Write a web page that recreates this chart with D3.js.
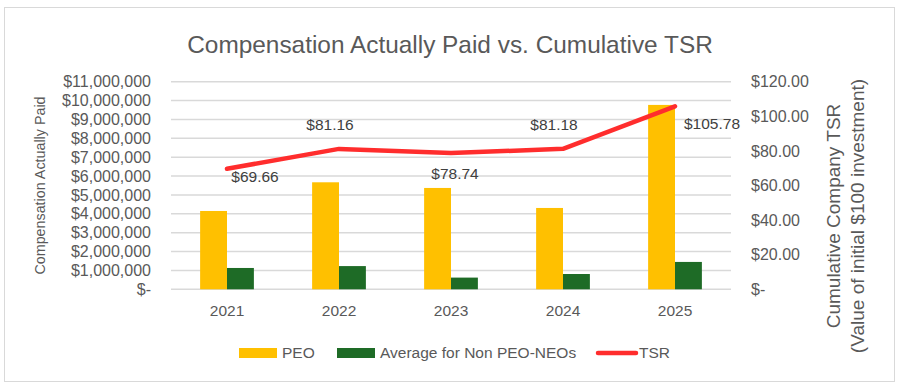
<!DOCTYPE html>
<html>
<head>
    <meta charset="utf-8" />
    <title>Compensation Actually Paid vs. Cumulative TSR</title>
    <script src="https://d3js.org/d3.v7.min.js"></script>
    <style>
        body { margin: 0; background: #fff; }
        text { font-family: "Liberation Sans", Arial, sans-serif; fill: #595959; }
    </style>
</head>
<body>
    <div id="the-chart"></div>
    <script>
        var years = ["2021", "2022", "2023", "2024", "2025"];
        var peo = [4150000, 5670000, 5370000, 4310000, 9770000];
        var nonPeo = [1130000, 1230000, 620000, 810000, 1450000];
        var tsr = [69.66, 81.16, 78.74, 81.18, 105.78];
        var leftTicks = d3.range(0, 11000001, 1000000);
        var rightTicks = [0, 20, 40, 60, 80, 100, 120];

        // label placement relative to each point (Excel put them by hand)
        var labelPos = [
            { dx: 28, dy: 8, anchor: "middle" },
            { dx: -9, dy: -24, anchor: "middle" },
            { dx: 4, dy: 20, anchor: "middle" },
            { dx: -9, dy: -24, anchor: "middle" },
            { dx: 9, dy: 17, anchor: "start" }
        ];

        var W = 901, H = 388;
        var svg = d3.select("#the-chart").append("svg")
            .attr("width", W)
            .attr("height", H);

        svg.append("rect")
            .attr("x", 4.5).attr("y", 7.5)
            .attr("width", 890).attr("height", 374)
            .attr("fill", "#fff")
            .attr("stroke", "#d9d9d9")
            .attr("stroke-width", 1);

        var plotLeft = 171, plotRight = 731, plotTop = 81.7, plotBottom = 289.3;

        var x = d3.scaleBand().domain(years).range([plotLeft, plotRight]).paddingInner(0.52).paddingOuter(0.26);
        var y = d3.scaleLinear().domain([0, 11000000]).range([plotBottom, plotTop]);
        var y2 = d3.scaleLinear().domain([0, 120]).range([plotBottom, plotTop]);

        svg.append("text")
            .attr("x", 450).attr("y", 53)
            .attr("text-anchor", "middle")
            .style("font-size", "24.4px")
            .text("Compensation Actually Paid vs. Cumulative TSR");

        // gridlines
        svg.append("g").selectAll("line")
            .data(leftTicks)
            .enter().append("line")
            .attr("x1", plotLeft).attr("x2", plotRight)
            .attr("y1", function (d) { return y(d); })
            .attr("y2", function (d) { return y(d); })
            .attr("stroke", "#d9d9d9")
            .attr("stroke-width", 1.5);

        var fmtLeft = function (d) { return d === 0 ? "$-" : "$" + d3.format(",")(d); };
        var fmtRight = function (d) { return d === 0 ? "$-" : "$" + d3.format(".2f")(d); };

        var axL = svg.append("g")
            .attr("transform", "translate(" + plotLeft + ",0)")
            .call(d3.axisLeft(y).tickValues(leftTicks).tickFormat(fmtLeft).tickSize(0).tickPadding(20));
        axL.select(".domain").remove();
        axL.selectAll("text").style("font-size", "16px").attr("fill", "#595959")
            .style("font-family", "\"Liberation Sans\", Arial, sans-serif");

        var axR = svg.append("g")
            .attr("transform", "translate(" + plotRight + ",0)")
            .call(d3.axisRight(y2).tickValues(rightTicks).tickFormat(fmtRight).tickSize(0).tickPadding(20));
        axR.select(".domain").remove();
        axR.selectAll("text").style("font-size", "16px").attr("fill", "#595959")
            .style("font-family", "\"Liberation Sans\", Arial, sans-serif");

        var axX = svg.append("g")
            .attr("transform", "translate(0," + plotBottom + ")")
            .call(d3.axisBottom(x).tickSize(0).tickPadding(16));
        axX.select(".domain").remove();
        axX.selectAll("text").style("font-size", "15.5px").attr("fill", "#595959")
            .style("font-family", "\"Liberation Sans\", Arial, sans-serif");

        var bw = x.bandwidth() / 2;

        svg.append("g").selectAll("rect")
            .data(peo)
            .enter().append("rect")
            .attr("x", function (d, i) { return x(years[i]); })
            .attr("y", function (d) { return y(d); })
            .attr("width", bw)
            .attr("height", function (d) { return plotBottom - y(d); })
            .attr("fill", "#ffc000");

        svg.append("g").selectAll("rect")
            .data(nonPeo)
            .enter().append("rect")
            .attr("x", function (d, i) { return x(years[i]) + bw; })
            .attr("y", function (d) { return y(d); })
            .attr("width", bw)
            .attr("height", function (d) { return plotBottom - y(d); })
            .attr("fill", "#1e6b26");

        var cx = function (i) { return x(years[i]) + bw; };

        var line = d3.line()
            .x(function (d, i) { return cx(i); })
            .y(function (d) { return y2(d); });

        svg.append("path")
            .datum(tsr)
            .attr("d", line)
            .attr("fill", "none")
            .attr("stroke", "#ff2d2d")
            .attr("stroke-width", 4.5)
            .attr("stroke-linecap", "round")
            .attr("stroke-linejoin", "round");

        svg.append("g").selectAll("text")
            .data(tsr)
            .enter().append("text")
            .attr("x", function (d, i) { return cx(i) + labelPos[i].dx; })
            .attr("y", function (d, i) { return y2(d) + labelPos[i].dy; })
            .attr("dy", "0.35em")
            .attr("text-anchor", function (d, i) { return labelPos[i].anchor; })
            .style("font-size", "15.5px")
            .style("fill", "#404040")
            .text(function (d) { return "$" + d3.format(".2f")(d); });

        // axis titles
        svg.append("text")
            .attr("transform", "translate(45," + ((plotTop + plotBottom) / 2) + ") rotate(-90)")
            .attr("text-anchor", "middle")
            .style("font-size", "14.3px")
            .text("Compensation Actually Paid");

        var rt = svg.append("text")
            .attr("transform", "translate(840,216) rotate(-90)")
            .attr("text-anchor", "middle")
            .style("font-size", "19px");
        rt.append("tspan").attr("x", 0).attr("dy", 0).text("Cumulative Company TSR");
        rt.append("tspan").attr("x", 0).attr("dy", "1.25em").text("(Value of initial $100 investment)");

        // legend
        var legend = [
            { name: "PEO", color: "#ffc000", type: "rect", x: 239 },
            { name: "Average for Non PEO-NEOs", color: "#1e6b26", type: "rect", x: 337 },
            { name: "TSR", color: "#ff2d2d", type: "line", x: 596 }
        ];
        var lg = svg.append("g").selectAll("g")
            .data(legend)
            .enter().append("g")
            .attr("transform", function (d) { return "translate(" + d.x + ",353)"; });
        lg.filter(function (d) { return d.type === "rect"; })
            .append("rect")
            .attr("x", 0).attr("y", -5)
            .attr("width", 38).attr("height", 10)
            .attr("fill", function (d) { return d.color; });
        lg.filter(function (d) { return d.type === "line"; })
            .append("line")
            .attr("x1", 2).attr("x2", 40)
            .attr("y1", 0).attr("y2", 0)
            .attr("stroke", function (d) { return d.color; })
            .attr("stroke-width", 4.5)
            .attr("stroke-linecap", "round");
        lg.append("text")
            .attr("x", 43)
            .attr("y", 0)
            .attr("dy", "0.35em")
            .style("font-size", "15.5px")
            .text(function (d) { return d.name; });
    </script>
</body>
</html>
